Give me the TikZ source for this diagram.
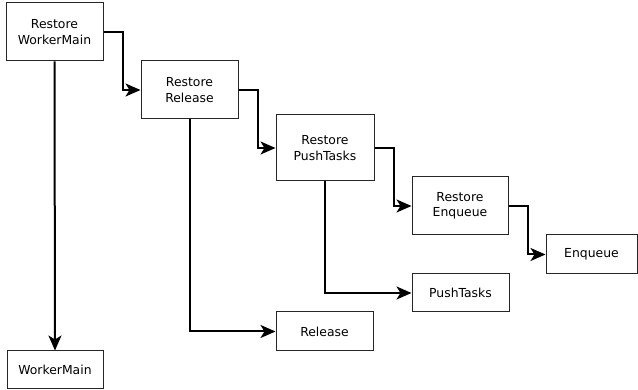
\documentclass[tikz,border=0pt]{standalone}
\usepackage{fontspec}
\setmainfont{DejaVu Sans}
\usetikzlibrary{arrows.meta}
\begin{document}
\begin{tikzpicture}[x=1pt,y=-1pt,
  box/.style={draw=black!85,line width=1pt,fill=white,inner sep=0pt,
    align=center,font=\fontsize{12.4}{15.3}\selectfont},
  link/.style={draw=black,line width=2pt,
    -{Stealth[length=15pt,width=13pt,inset=4pt]}}]
\useasboundingbox[fill=white] (0,0) rectangle (638,390);
% restore chain
\node[box,minimum width=97pt,minimum height=58pt] (rwm) at (54.5,32) {Restore\\WorkerMain};
\node[box,minimum width=97pt,minimum height=58pt] (rrel) at (189.5,90) {Restore\\Release};
\node[box,minimum width=98pt,minimum height=66pt] (rpt) at (325,148) {Restore\\PushTasks};
\node[box,minimum width=96pt,minimum height=58pt] (renq) at (460,206) {Restore\\Enqueue};
% plain calls
\node[box,minimum width=91pt,minimum height=39pt] (enq) at (591.5,254.5) {Enqueue};
\node[box,minimum width=97pt,minimum height=38pt] (pt) at (460.5,293) {PushTasks};
\node[box,minimum width=97pt,minimum height=39pt] (rel) at (324.5,331.5) {Release};
\node[box,minimum width=96pt,minimum height=38pt] (wm) at (55,370) {WorkerMain};
% connectors
\draw[link] (rwm.east) -- ++(19,0) |- (rrel.west);
\draw[link] (rrel.east) -- ++(19,0) |- (rpt.west);
\draw[link] (rpt.east) -- ++(19,0) |- (renq.west);
\draw[link] (renq.east) -- ++(19,0) |- (enq.west);
\draw[link] (rwm.south) -- (wm.north);
\draw[link] (rrel.south) |- (rel.west);
\draw[link] (rpt.south) |- (pt.west);
\end{tikzpicture}
\end{document}
